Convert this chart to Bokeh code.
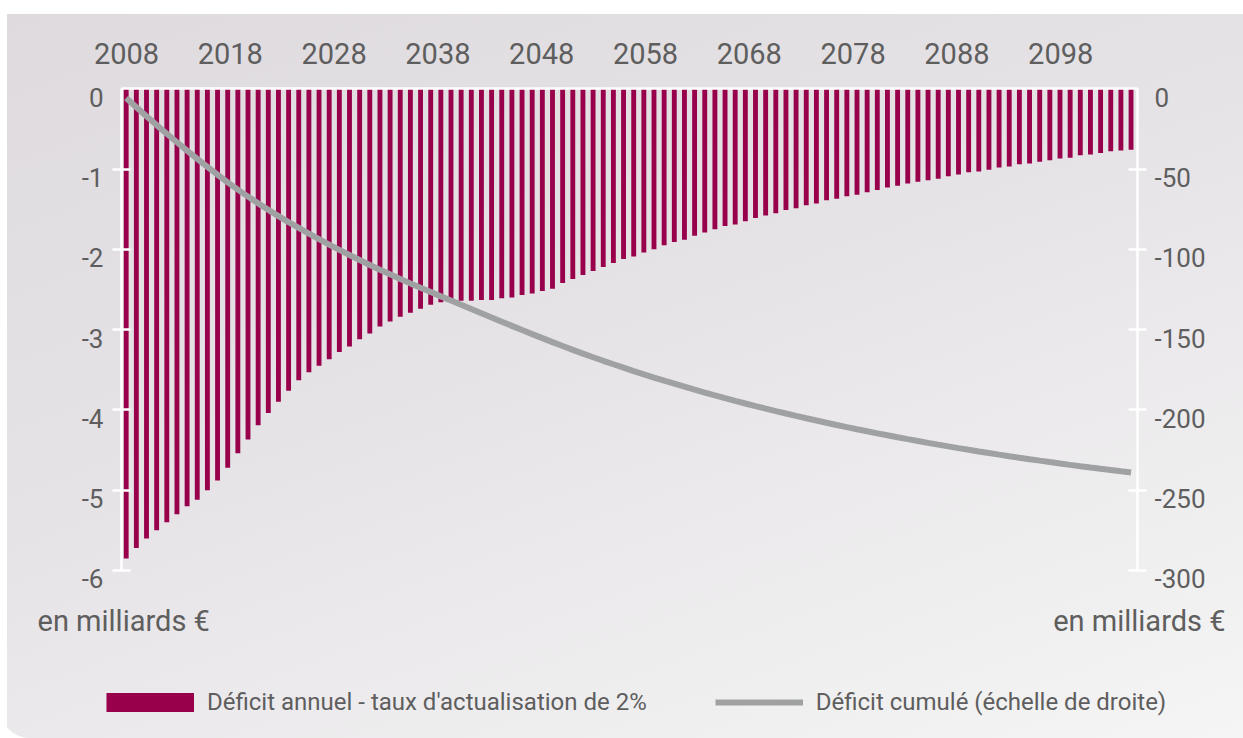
from bokeh.plotting import figure
from bokeh.models import (Range1d, LinearAxis, FixedTicker, Legend, LegendItem, Label)
from bokeh.embed import file_html
from bokeh.resources import INLINE

# ---------------- data ----------------
years = list(range(2008, 2108))
annual_deficit = [
    -5.85, -5.72, -5.60, -5.50, -5.40, -5.30, -5.20, -5.12, -5.00, -4.88,
    -4.72, -4.54, -4.37, -4.19, -4.04, -3.90, -3.76, -3.63, -3.53, -3.45,
    -3.37, -3.28, -3.21, -3.12, -3.05, -2.96, -2.90, -2.84, -2.79, -2.74,
    -2.69, -2.66, -2.63, -2.64, -2.64, -2.63, -2.63, -2.61, -2.60, -2.57,
    -2.55, -2.52, -2.49, -2.42, -2.37, -2.32, -2.27, -2.22, -2.17, -2.12,
    -2.09, -2.04, -2.00, -1.95, -1.91, -1.88, -1.83, -1.79, -1.75, -1.71,
    -1.69, -1.65, -1.61, -1.58, -1.55, -1.51, -1.49, -1.45, -1.43, -1.39,
    -1.37, -1.34, -1.32, -1.29, -1.26, -1.23, -1.21, -1.18, -1.16, -1.14,
    -1.12, -1.09, -1.07, -1.04, -1.03, -1.01, -0.98, -0.97, -0.94, -0.93,
    -0.91, -0.89, -0.87, -0.86, -0.83, -0.82, -0.80, -0.78, -0.77, -0.76,
]
cumulative_deficit = [
    -5.85, -11.57, -17.17, -22.67, -28.07, -33.37, -38.57, -43.69, -48.69, -53.57,
    -58.29, -62.83, -67.20, -71.39, -75.43, -79.33, -83.09, -86.72, -90.25, -93.70,
    -97.07, -100.35, -103.56, -106.68, -109.73, -112.69, -115.59, -118.43, -121.22, -123.96,
    -126.65, -129.31, -131.94, -134.58, -137.22, -139.85, -142.48, -145.09, -147.69, -150.26,
    -152.81, -155.33, -157.82, -160.24, -162.61, -164.93, -167.20, -169.42, -171.59, -173.71,
    -175.80, -177.84, -179.84, -181.79, -183.70, -185.58, -187.41, -189.20, -190.95, -192.66,
    -194.35, -196.00, -197.61, -199.19, -200.74, -202.25, -203.74, -205.19, -206.62, -208.01,
    -209.38, -210.72, -212.04, -213.33, -214.59, -215.82, -217.03, -218.21, -219.37, -220.51,
    -221.63, -222.72, -223.79, -224.83, -225.86, -226.87, -227.85, -228.82, -229.76, -230.69,
    -231.60, -232.49, -233.36, -234.22, -235.05, -235.87, -236.67, -237.45, -238.22, -238.98,
]
year_ticks = [2008, 2018, 2028, 2038, 2048, 2058, 2068, 2078, 2088, 2098]
left_ticks = [0, -1, -2, -3, -4, -5, -6]
left_tick_labels = ["0", "-1", "-2", "-3", "-4", "-5", "-6"]
right_ticks = [0, -50, -100, -150, -200, -250, -300]
right_tick_labels = ["0", "-50", "-100", "-150", "-200", "-250", "-300"]
unit_label = "en milliards €"
series_names = ["Déficit annuel - taux d'actualisation de 2%",
                "Déficit cumulé (échelle de droite)"]

# ---------------- layout (pixels) ----------------
W, H = 1243, 738
FRAME_L, FRAME_R = 121, 1137          # where the value axes stand
ZERO_PX, PX_PER_UNIT = 88.2, 80.3     # y pixel of 0, pixels per 1 bn (left scale)
BAR_X0, PX_PER_YEAR = 125.7, 10.15    # centre of the first bar, bar pitch
LAB_X0, LAB_PX_PER_YEAR = 126.0, 10.38  # year captions are spread slightly wider
RIGHT_FACTOR = 50.0                   # right scale = 50 x left scale
LBL_DROP = 8.4                        # tick labels sit a little below their ticks

x_start = 2008 - BAR_X0 / PX_PER_YEAR
x_end = x_start + W / PX_PER_YEAR
y_end = ZERO_PX / PX_PER_UNIT
y_start = -(H - ZERO_PX) / PX_PER_UNIT
lab_start = 2008 - LAB_X0 / LAB_PX_PER_YEAR
lab_end = lab_start + W / LAB_PX_PER_YEAR
axis_left_x = x_start + FRAME_L / PX_PER_YEAR
axis_right_x = x_start + FRAME_R / PX_PER_YEAR
drop = LBL_DROP / PX_PER_UNIT

FONT = "Roboto"
TXT = "#5e5e5e"
BAR = "#98004c"
LINE = "#9fa1a2"

p = figure(width=W, height=H, output_backend="svg", toolbar_location=None,
           x_range=Range1d(x_start, x_end), y_range=Range1d(y_start, y_end),
           x_axis_location=None, y_axis_location=None, title=None,
           min_border=0, min_border_left=0, min_border_right=0,
           min_border_top=0, min_border_bottom=0)
p.extra_x_ranges = {"lab": Range1d(lab_start, lab_end)}
p.extra_y_ranges = {
    "cum": Range1d(y_start * RIGHT_FACTOR, y_end * RIGHT_FACTOR),
    "llab": Range1d(y_start + drop, y_end + drop),
    "rlab": Range1d((y_start + drop) * RIGHT_FACTOR, (y_end + drop) * RIGHT_FACTOR),
}
p.background_fill_alpha = 0
p.border_fill_alpha = 0
p.outline_line_color = None
p.xgrid.visible = False
p.ygrid.visible = False
p.styles = {
    "background": "linear-gradient(180deg, #ffffff 14px, transparent 14px), "
                  "linear-gradient(90deg, #ffffff 7px, transparent 7px), "
                  "linear-gradient(160deg, #dedade 0%, #e6e3e6 45%, #f5f5f5 100%)",
    "border-bottom-left-radius": "30px",
}

bars = p.vbar(x=years, top=annual_deficit, bottom=0, width=0.48,
              fill_color=BAR, line_color=None)
line = p.line(x=years, y=cumulative_deficit, y_range_name="cum",
              line_color=LINE, line_width=6)
# legend swatch for the bar series (a flat band, like the reference key);
# a one-point line draws nothing in the plot itself
bar_key = p.line(x=years[:1], y=annual_deficit[:1], line_color=BAR, line_width=19)


def white_line_axis(ax):
    ax.axis_line_color = "white"
    ax.axis_line_width = 2.5
    ax.major_tick_line_color = "white"
    ax.major_tick_line_width = 2.5
    ax.minor_tick_line_color = None
    ax.major_tick_in = 9
    ax.major_tick_out = 9
    ax.major_label_text_color = None


def text_axis(ax, size, standoff):
    ax.major_label_text_font = FONT
    ax.major_label_text_font_size = size
    ax.major_label_text_color = TXT
    ax.axis_line_color = None
    ax.major_tick_line_color = None
    ax.minor_tick_line_color = None
    ax.major_tick_in = 0
    ax.major_tick_out = 0
    ax.major_label_standoff = standoff


# top: white frame line + year captions
top = LinearAxis(x_range_name="lab", ticker=FixedTicker(ticks=year_ticks),
                 fixed_location=0,
                 bounds=(lab_start + FRAME_L / LAB_PX_PER_YEAR,
                         lab_start + FRAME_R / LAB_PX_PER_YEAR))
text_axis(top, "29px", 25)
top.axis_line_color = "white"
top.axis_line_width = 2.5
p.add_layout(top, "above")

# left scale (no tick mark at 0: the frame corner)
left_line = LinearAxis(ticker=FixedTicker(ticks=left_ticks[1:]), fixed_location=axis_left_x,
                       bounds=(min(left_ticks), max(left_ticks)))
white_line_axis(left_line)
p.add_layout(left_line, "left")
left_lab = LinearAxis(y_range_name="llab", ticker=FixedTicker(ticks=left_ticks),
                      fixed_location=axis_left_x, bounds=(min(left_ticks), max(left_ticks)),
                      major_label_overrides=dict(zip(left_ticks, left_tick_labels)))
text_axis(left_lab, "26px", 18)
p.add_layout(left_lab, "left")

# right scale
right_line = LinearAxis(y_range_name="cum", ticker=FixedTicker(ticks=right_ticks[1:]),
                        fixed_location=axis_right_x,
                        bounds=(min(right_ticks), max(right_ticks)))
white_line_axis(right_line)
p.add_layout(right_line, "right")
right_lab = LinearAxis(y_range_name="rlab", ticker=FixedTicker(ticks=right_ticks),
                       fixed_location=axis_right_x,
                       bounds=(min(right_ticks), max(right_ticks)),
                       major_label_overrides=dict(zip(right_ticks, right_tick_labels)))
text_axis(right_lab, "26px", 17)
p.add_layout(right_lab, "right")

# unit captions
for xx, align in ((37, "left"), (1225, "right")):
    p.add_layout(Label(x=xx, y=H - 620, x_units="screen", y_units="screen",
                       text=unit_label, text_font=FONT, text_font_size="29px",
                       text_color=TXT, text_align=align, text_baseline="middle"))

legend = Legend(items=[LegendItem(label=series_names[0], renderers=[bar_key]),
                       LegendItem(label=series_names[1], renderers=[line])],
                orientation="horizontal", location=(106, 22),
                glyph_width=88, glyph_height=24, label_height=24,
                label_standoff=13, spacing=68, padding=0, margin=0,
                border_line_color=None, background_fill_alpha=0,
                label_text_font=FONT, label_text_font_size="24px", label_text_color=TXT)
p.add_layout(legend)

open("out.html", "w").write(file_html(p, INLINE))
